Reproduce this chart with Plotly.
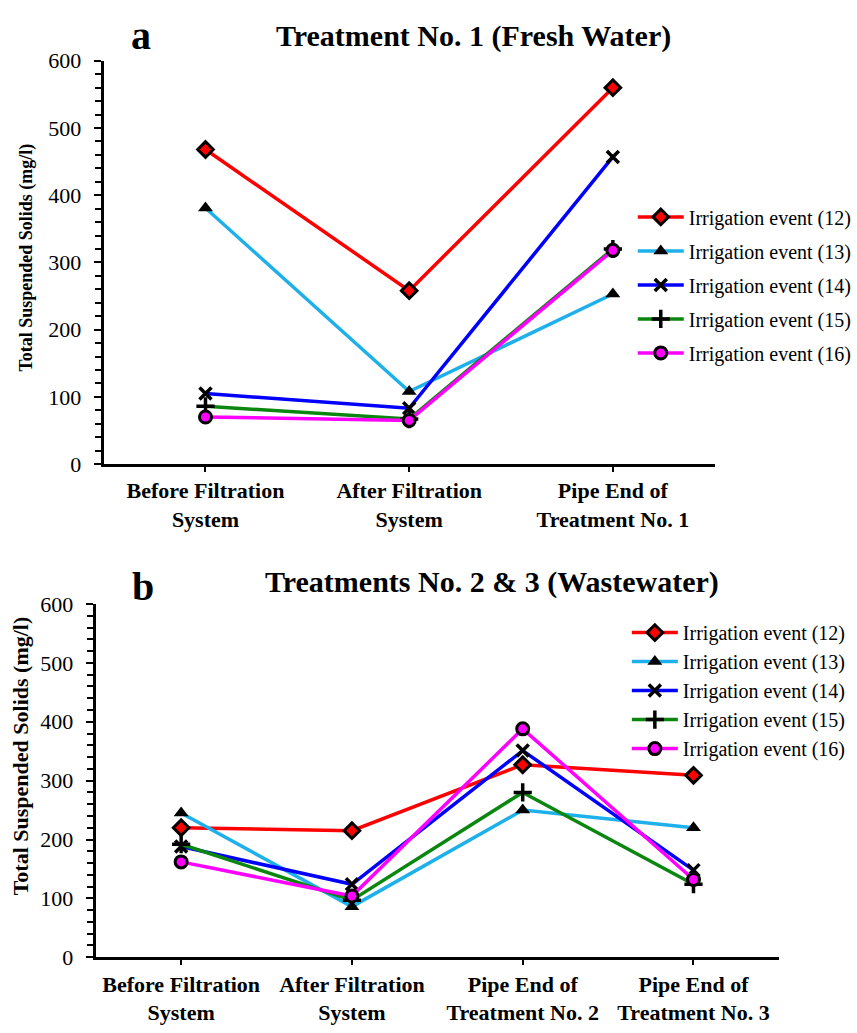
import plotly.graph_objects as go

# Sampling points along the irrigation network
stages_fresh = ["Before Filtration<br>System", "After Filtration<br>System",
                "Pipe End of<br>Treatment No. 1"]
stages_waste = ["Before Filtration<br>System", "After Filtration<br>System",
                "Pipe End of<br>Treatment No. 2", "Pipe End of<br>Treatment No. 3"]

events = ["Irrigation event (12)", "Irrigation event (13)", "Irrigation event (14)",
          "Irrigation event (15)", "Irrigation event (16)"]

# Total suspended solids (mg/l), treatment 1 (fresh water)
fresh_12 = [468, 258, 560]
fresh_13 = [381, 108, 253]
fresh_14 = [105, 83, 457]
fresh_15 = [86, 67, 320]
fresh_16 = [70, 65, 318]

# Total suspended solids (mg/l), treatments 2 & 3 (wastewater)
waste_12 = [220, 215, 327, 309]
waste_13 = [245, 86, 250, 220]
waste_14 = [188, 124, 351, 148]
waste_15 = [192, 97, 280, 124]
waste_16 = [162, 104, 388, 132]

fresh_series = [fresh_12, fresh_13, fresh_14, fresh_15, fresh_16]
waste_series = [waste_12, waste_13, waste_14, waste_15, waste_16]

line_colors = ["#FF0000", "#1EB0EA", "#0000FF", "#0B870F", "#FF00FF"]
symbols = ["diamond", "triangle-up", "x-thin", "cross-thin", "circle"]
sizes = [12, 13, 12, 13, 12]

FONT = "Liberation Serif, Times New Roman, Times, serif"


def marker_style(i):
    sym = symbols[i]
    if sym == "triangle-up":
        return dict(symbol=sym, size=sizes[i], color="black", line=dict(width=0))
    if sym in ("x-thin", "cross-thin"):
        return dict(symbol=sym, size=sizes[i], color="black",
                    line=dict(color="black", width=3.5))
    return dict(symbol=sym, size=sizes[i], color=line_colors[i],
                line=dict(color="black", width=3))


fig = go.Figure()

for i, (name, vals) in enumerate(zip(events, fresh_series)):
    fig.add_trace(go.Scatter(
        x=stages_fresh, y=vals, name=name, mode="lines+markers",
        line=dict(color=line_colors[i], width=3.5),
        marker=marker_style(i), xaxis="x", yaxis="y",
        legend="legend", legendgroup="a%d" % i,
    ))

for i, (name, vals) in enumerate(zip(events, waste_series)):
    fig.add_trace(go.Scatter(
        x=stages_waste, y=vals, name=name, mode="lines+markers",
        line=dict(color=line_colors[i], width=3.5),
        marker=marker_style(i), xaxis="x2", yaxis="y2",
        legend="legend2", legendgroup="b%d" % i,
    ))

W, H = 857, 1033


def px_x(v):
    return v / W


def px_y(v):
    return 1 - v / H


xaxis_common = dict(
    type="category", showline=True, linecolor="black", linewidth=3,
    ticks="outside", ticklen=5, tickwidth=2, tickcolor="black",
    showgrid=False, zeroline=False,
    tickfont=dict(family=FONT, size=22, color="black", weight="bold"),
)
yaxis_common = dict(
    range=[0, 600], dtick=100, showline=True, linecolor="black", linewidth=3,
    ticks="outside", ticklen=7, tickwidth=2, tickcolor="black",
    minor=dict(dtick=20, ticks="outside", ticklen=6, tickwidth=2, tickcolor="black"),
    showgrid=False, zeroline=False, ticklabelstandoff=8,
    tickfont=dict(family=FONT, size=22, color="black"),
)

legend_common = dict(
    font=dict(family=FONT, size=20, color="black"),
    bgcolor="rgba(0,0,0,0)", borderwidth=0,
    itemwidth=46, xanchor="left", yanchor="top",
    tracegroupgap=0, itemclick=False,
)

fig.update_layout(
    width=W, height=H,
    margin=dict(l=0, r=0, t=0, b=0),
    paper_bgcolor="white", plot_bgcolor="white",
    font=dict(family=FONT, color="black"),
    xaxis=dict(domain=[px_x(105), px_x(724)], anchor="y", range=[-0.5, 2.5], **xaxis_common),
    yaxis=dict(domain=[px_y(463.3), px_y(50)], anchor="x", **yaxis_common),
    xaxis2=dict(domain=[px_x(97), px_x(789)], anchor="y2", range=[-0.5, 3.5], **xaxis_common),
    yaxis2=dict(domain=[px_y(968.7), px_y(606.7)], anchor="x2", **yaxis_common),
    legend=dict(x=px_x(641), y=px_y(190), **{**legend_common, "tracegroupgap": 5}),
    legend2=dict(x=px_x(635), y=px_y(616), **legend_common),
    showlegend=True,
)

annotations = [
    dict(text="<b>Treatment No. 1 (Fresh Water)</b>", x=px_x(479.5), y=px_y(25),
         font=dict(family=FONT, size=30)),
    dict(text="<b>Treatments No. 2 & 3 (Wastewater)</b>", x=px_x(498), y=px_y(584),
         font=dict(family=FONT, size=30)),
    dict(text="<b>a</b>", x=px_x(143), y=px_y(24), font=dict(family=FONT, size=40)),
    dict(text="<b>b</b>", x=px_x(145), y=px_y(589), font=dict(family=FONT, size=40)),
    dict(text="<b>Total Suspended Solids (mg/l)</b>", x=px_x(27), y=px_y(252),
         textangle=-90, font=dict(family=FONT, size=18)),
    dict(text="<b>Total Suspended Solids (mg/l)</b>", x=px_x(21), y=px_y(762),
         textangle=-90, font=dict(family=FONT, size=22)),
]
for a in annotations:
    a.update(xref="paper", yref="paper", showarrow=False,
             xanchor="center", yanchor="middle")
    a["font"]["color"] = "black"
fig.update_layout(annotations=annotations)

fig.write_html("out.html")
